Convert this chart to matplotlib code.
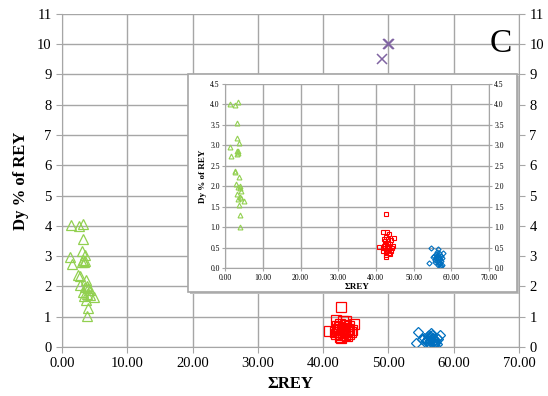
import matplotlib.pyplot as plt
from matplotlib.patches import Rectangle

plt.rcParams['font.family'] = ['Liberation Serif', 'DejaVu Serif']

# green triangles
g_x = [1.4, 2.6, 3.3, 3.2, 1.2, 1.6, 3.0, 3.6, 3.2, 3.5, 3.0, 3.4, 2.5, 2.7, 3.7, 2.8,
       3.8, 4.0, 3.5, 4.3, 3.2, 3.9, 4.9, 3.4, 3.7, 4.0, 3.8, 4.3]
g_y = [4.02, 3.98, 4.05, 3.55, 2.97, 2.73, 3.17, 3.05, 2.87, 2.85, 2.80, 2.82, 2.38, 2.35,
       2.22, 2.06, 2.00, 1.96, 1.97, 1.88, 1.80, 1.74, 1.64, 1.68, 1.55, 1.30, 1.01, 1.72]
# red squares
r_x = [42.8, 42.0, 43.0, 43.5, 44.7, 40.9, 42.6, 42.7, 42.2, 42.5, 43.2, 43.8, 42.1, 42.9,
       43.6, 44.2, 42.4, 43.1, 43.9, 42.0, 42.7, 43.4, 44.0, 42.3, 43.3, 41.8, 44.5, 43.0,
       42.6, 43.7]
r_y = [1.33, 0.88, 0.87, 0.84, 0.74, 0.52, 0.32, 0.28, 0.70, 0.65, 0.62, 0.60, 0.55, 0.55,
       0.52, 0.50, 0.48, 0.45, 0.42, 0.42, 0.40, 0.38, 0.68, 0.60, 0.72, 0.50, 0.55, 0.50,
       0.75, 0.35]
# blue diamonds
b_x = [54.6, 56.5, 54.2, 57.9, 57.0, 56.8, 57.2, 55.5, 56.0, 56.5, 57.0, 55.8, 56.3, 56.8,
       57.3, 55.2, 56.0, 56.6, 57.4, 57.6, 56.2, 55.6, 56.9, 57.1, 56.4, 55.9, 57.5, 56.7]
b_y = [0.49, 0.47, 0.13, 0.38, 0.06, 0.10, 0.04, 0.30, 0.28, 0.25, 0.22, 0.20, 0.18, 0.15,
       0.18, 0.26, 0.35, 0.33, 0.30, 0.25, 0.40, 0.15, 0.28, 0.12, 0.08, 0.24, 0.08, 0.38]
# purple crosses
p_x = [50.0, 50.1, 49.0]
p_y = [10.0, 10.02, 9.5]

green = '#92D050'
red = '#FF0000'
blue = '#0070C0'
purple = '#8064A2'
gridc = '#A6A6A6'

fig = plt.figure(figsize=(5.48, 3.96), dpi=100)
ax = fig.add_axes([0.113, 0.124, 0.834, 0.841])

def series(a, ms, mew):
    a.plot(g_x, g_y, ls='none', marker='^', ms=ms, mfc='none', mec=green, mew=mew)
    a.plot(r_x, r_y, ls='none', marker='s', ms=ms, mfc='none', mec=red, mew=mew)
    a.plot(b_x, b_y, ls='none', marker='D', ms=ms * 0.75, mfc='none', mec=blue, mew=mew)

series(ax, 7, 0.9)
ax.plot(p_x, p_y, ls='none', marker='x', ms=7, mec=purple, mew=1.1)

ax.set_xlim(0, 70)
ax.set_ylim(0, 11)
ax.set_xticks(range(0, 71, 10))
ax.set_xticklabels([f'{v:.2f}' for v in range(0, 71, 10)])
ax.set_yticks(range(0, 12))
ax.grid(True, color=gridc, lw=1)
ax.set_axisbelow(True)
for s in ax.spines.values():
    s.set_color(gridc)
ax.spines['top'].set_visible(False)
ax.tick_params(labelsize=10.5, colors='black', color=gridc, length=4,
               right=True, labelright=True)
ax.set_xlabel('ΣREY', fontsize=12, fontweight='bold', labelpad=4)
ax.set_ylabel('Dy % of REY', fontsize=12, fontweight='bold', labelpad=6)
ax.text(67.2, 10.0, 'C', fontsize=24, ha='center', va='center')

# inset frame with shadow
ax.add_patch(Rectangle((0.347, 0.258), 0.6, 0.55, transform=fig.transFigure,
                       facecolor='#BFBFBF', edgecolor='none', zorder=9, clip_on=False))
ax.add_patch(Rectangle((0.343, 0.263), 0.6, 0.55, transform=fig.transFigure,
                       facecolor='white', edgecolor='#A6A6A6', lw=1.2, zorder=10, clip_on=False))

ins = fig.add_axes([0.411, 0.323, 0.481, 0.465])
series(ins, 3.5, 0.8)
ins.set_xlim(0, 70)
ins.set_ylim(0, 4.5)
ins.set_xticks(range(0, 71, 10))
ins.set_xticklabels([f'{v:.2f}' for v in range(0, 71, 10)])
ins.set_yticks([i * 0.5 for i in range(10)])
ins.set_yticklabels([f'{i * 0.5:.1f}' for i in range(10)])
ins.grid(True, color=gridc, lw=1)
ins.set_axisbelow(True)
for s in ins.spines.values():
    s.set_color(gridc)
ins.spines['top'].set_visible(False)
ins.tick_params(labelsize=5.5, colors='black', color=gridc, length=2,
                right=True, labelright=True, pad=2)
ins.set_xlabel('ΣREY', fontsize=6.5, fontweight='bold', labelpad=1)
ins.set_ylabel('Dy % of REY', fontsize=6.5, fontweight='bold', labelpad=2)

fig.savefig('out.png', dpi=100)
